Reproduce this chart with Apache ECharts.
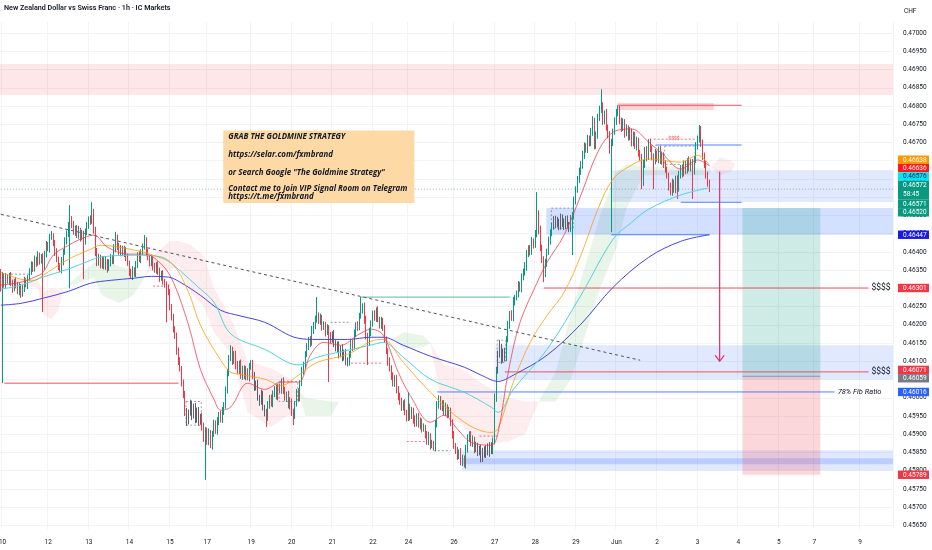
<!DOCTYPE html>
<html><head><meta charset="utf-8">
<script src="https://cdn.jsdelivr.net/npm/echarts@6/dist/echarts.min.js"></script>
<style>html,body{margin:0;padding:0;background:#fff;}#chart{width:932px;height:550px;}</style>
</head><body><div id="chart"></div>
<script>
// ---------- DATA (prices in 1e-5 CHF units) ----------
const titleText = 'New Zealand Dollar vs Swiss Franc · 1h · IC Markets';
const firstOpen = 46345;
const closes = [
46300,46335,46310,46330,46320,46335,46315,46300,46320,46310,
46290,46305,46285,46300,46320,46310,46330,46345,46365,46355,
46380,46370,46390,46375,46385,46360,46395,46420,46410,46440,
46445,46425,46400,46380,46360,46350,46375,46400,46430,46450,
46470,46490,46475,46455,46465,46445,46460,46440,46450,46430,
46455,46470,46490,46485,46510,46460,46400,46370,46385,46365,
46380,46360,46375,46355,46370,46385,46375,46410,46440,46415,
46400,46410,46395,46405,46385,46370,46345,46335,46350,46340,
46365,46390,46380,46400,46415,46430,46400,46385,46370,46380,
46360,46350,46365,46345,46330,46340,46320,46310,46300,46290,
46250,46220,46190,46170,46130,46100,46080,46040,46010,45960,
45935,45960,45985,45950,45975,45940,45965,45935,45950,45920,
45890,45910,45880,45905,45870,45900,45930,45910,45935,45955,
45940,45965,45980,46020,46070,46110,46130,46100,46120,46090,
46075,46095,46060,46080,46060,46075,46055,46085,46095,46060,
46030,46040,46000,45990,46010,45975,45960,45945,45980,46000,
45985,46010,46025,46005,46030,46020,46045,46020,46000,46010,
45980,45990,45960,45950,45985,46015,46000,46040,46075,46090,
46120,46140,46160,46150,46185,46200,46215,46225,46210,46220,
46195,46200,46180,46190,46170,46160,46175,46150,46135,46145,
46120,46135,46110,46125,46100,46095,46120,46150,46140,46175,
46200,46195,46225,46240,46250,46215,46170,46150,46180,46205,
46230,46220,46240,46215,46200,46210,46190,46160,46130,46100,
46080,46060,46040,46055,46020,46005,45990,45975,45985,45960,
45945,45975,45950,45965,45940,45930,45950,45925,45935,45915,
45920,45900,45880,45895,45870,45875,45862,45930,45980,45995,
45975,45985,45960,45975,45955,45965,45930,45900,45870,45855,
45840,45850,45825,45835,45815,45860,45890,45900,45875,45885,
45860,45870,45850,45860,45835,45855,45845,45865,45850,45870,
45855,45880,46000,46075,46120,46140,46105,46125,46110,46160,
46200,46230,46220,46265,46275,46285,46310,46300,46330,46345,
46360,46395,46410,46400,46430,46420,46450,46505,46460,46410,
46380,46340,46370,46400,46430,46455,46470,46490,46475,46485,
46470,46495,46480,46470,46490,46475,46465,46490,46500,46540,
46570,46600,46620,46640,46665,46690,46680,46710,46700,46730,
46760,46690,46720,46770,46790,46800,46760,46780,46740,46720,
46680,46700,46730,46760,46780,46790,46760,46740,46755,46725,
46740,46715,46730,46700,46720,46690,46705,46670,46660,46590,
46640,46680,46660,46700,46685,46660,46650,46670,46655,46680,
46650,46665,46640,46625,46610,46580,46565,46590,46570,46600,
46575,46610,46630,46615,46640,46625,46650,46630,46645,46620,
46655,46690,46710,46735,46700,46660,46640,46610,46590,46572];
const upWick = [
8,10,6,12,8,7,10,9,6,11,8,10,7,9,12,8,6,10,9,8,
10,7,12,8,9,11,8,10,7,9,12,6,8,10,7,9,11,8,10,9,
12,38,8,10,7,9,11,6,10,8,9,12,7,10,26,8,9,11,10,7,
9,8,12,6,10,9,7,11,15,8,10,9,7,12,8,10,6,9,11,8,
10,9,12,7,8,16,10,9,6,11,8,10,7,9,12,8,10,6,9,11,
8,7,10,6,9,8,11,7,10,9,12,8,10,7,9,11,8,10,6,9,
12,10,8,11,7,9,10,8,12,6,9,10,8,11,9,7,14,10,8,9,
11,7,10,8,9,12,6,10,8,9,11,7,10,8,12,9,6,10,11,8,
9,10,7,12,8,9,8,11,10,7,9,12,8,10,6,9,11,8,10,9,
8,10,7,9,12,8,10,51,9,11,7,10,8,12,9,10,7,11,8,9,
10,8,12,7,9,11,8,10,9,12,7,10,8,36,9,11,10,8,12,7,
9,10,8,11,7,12,9,10,8,6,11,9,10,7,8,12,9,10,8,11,
7,40,9,10,8,12,7,9,11,8,10,6,9,12,8,10,7,9,11,12,
10,8,9,12,7,10,8,11,9,6,10,8,12,9,7,11,10,8,9,12,
8,10,7,9,11,8,12,6,10,9,8,11,12,10,9,18,8,10,12,9,
11,8,10,12,7,9,10,8,11,9,12,10,8,9,11,7,10,59,9,12,
10,8,11,9,12,7,10,8,9,11,6,10,8,12,9,10,7,11,9,12,
10,8,11,9,12,10,8,11,9,10,12,8,10,9,11,46,10,8,12,9,
11,10,8,9,12,12,10,8,11,9,10,7,12,8,10,9,11,8,10,9,
12,8,10,9,11,7,10,12,8,9,11,10,8,12,9,7,10,11,8,9,
10,12,8,9,11,10,7,12,9,10,8,11,9,13,10,8,12,9,10,8];
const dnWick = [
9,260,8,10,7,11,9,12,8,10,6,9,11,8,10,7,12,9,8,10,
9,11,8,10,7,125,9,10,8,12,7,9,11,8,10,6,9,12,8,10,
9,170,10,8,11,7,9,12,8,105,10,9,7,11,8,10,12,9,8,10,
11,8,9,12,7,10,8,9,11,10,8,12,7,9,10,8,11,9,12,8,
9,10,8,11,7,9,12,8,10,9,11,7,10,8,12,9,10,8,93,9,
10,8,11,9,12,10,8,9,11,10,12,8,9,11,7,10,8,12,9,10,
11,115,9,10,8,12,7,9,11,10,8,9,12,10,8,11,9,10,7,12,
9,10,8,11,9,12,7,10,8,9,11,10,8,12,9,10,11,25,8,10,
9,11,8,10,12,7,9,10,8,11,9,12,10,25,8,9,11,10,8,12,
10,8,9,11,7,10,12,9,8,10,11,9,12,8,127,10,9,11,8,10,
12,9,10,8,11,9,7,10,12,8,9,11,10,8,9,12,10,60,8,11,
10,9,12,8,10,11,7,9,10,12,8,11,9,10,8,12,9,11,10,8,
10,9,12,8,11,10,9,7,12,10,8,11,9,10,12,8,6,9,11,10,
9,12,8,10,11,9,8,12,10,9,11,8,10,12,6,9,10,11,8,10,
12,9,10,8,12,11,9,10,8,12,9,10,8,11,9,10,12,8,10,9,
8,11,9,10,12,8,10,9,11,8,10,12,9,10,8,11,9,10,12,8,
10,23,9,11,8,10,12,9,10,8,11,9,12,10,8,9,11,10,99,9,
10,8,11,9,12,10,8,9,11,10,12,9,8,10,11,9,12,10,8,9,
11,226,10,9,12,8,10,11,9,12,8,10,9,11,10,8,12,9,10,18,
9,10,12,8,11,9,78,10,8,12,9,11,10,8,9,12,10,11,8,9,
30,10,9,11,8,12,10,9,10,75,8,11,9,10,12,8,10,9,11,8];
// candle index ranges shown as neutral (inside-range) bars
const grayRanges = [[110,118],[150,156],[196,205],[282,290],[294,298],[327,336]];

const dateIdx = [1,28,52,76,100,122,148,172,196,220,241,268,292,316,340,364,388,412,436,460,481,508];
const dateTxt = ['10','12','13','14','15','17','19','20','21','22','24','26','27','28','29','Jun','2','3','4','5','7','9'];
const yTicks = [45650,45700,45750,45800,45850,45900,45950,46000,46050,46100,46150,46200,46250,46300,46350,46400,46450,46500,46550,46600,46650,46700,46750,46800,46850,46900,46950,47000];

const emaFast = [[0,46309],[12,46317],[20,46331],[25,46344],[31,46391],[40,46418],[47,46435],[55,46446],[63,46413],[75,46394],[85,46394],[95,46366],[102,46317],[111,46199],[118,46078],[126,45996],[130,45966],[136,45975],[146,46040],[156,46023],[166,46043],[176,46043],[183,46117],[191,46152],[201,46144],[211,46172],[219,46188],[226,46172],[235,46070],[242,46007],[254,45933],[262,45952],[270,45914],[278,45878],[290,45870],[294,45905],[300,46070],[307,46207],[318,46325],[323,46372],[333,46446],[343,46556],[353,46674],[362,46728],[373,46737],[383,46701],[392,46665],[402,46627],[412,46652],[419,46636]];
const emaOrange = [[0,46344],[12,46325],[20,46322],[25,46336],[40,46380],[53,46407],[59,46418],[79,46405],[90,46391],[102,46364],[111,46289],[118,46199],[130,46103],[136,46070],[142,46064],[156,46051],[166,46034],[176,46062],[187,46097],[205,46119],[221,46158],[226,46160],[238,46097],[254,46015],[274,45933],[290,45905],[294,45915],[303,46043],[313,46152],[323,46226],[333,46289],[343,46391],[353,46517],[362,46600],[373,46638],[383,46655],[402,46646],[412,46665],[419,46638]];
const emaCyan = [[0,46298],[12,46309],[25,46331],[40,46353],[53,46377],[59,46386],[79,46391],[95,46386],[102,46364],[118,46298],[126,46262],[136,46175],[156,46133],[176,46090],[187,46111],[205,46130],[221,46147],[226,46152],[238,46111],[254,46051],[274,46015],[290,45974],[294,45960],[303,46023],[323,46133],[343,46281],[362,46435],[373,46481],[383,46517],[402,46556],[419,46576]];
const emaBlue = [[0,46254],[12,46259],[25,46273],[40,46292],[53,46314],[65,46322],[79,46328],[89,46333],[99,46331],[106,46317],[118,46281],[130,46240],[142,46224],[156,46207],[176,46163],[187,46160],[205,46160],[219,46166],[226,46166],[238,46144],[254,46114],[274,46084],[284,46062],[294,46045],[303,46062],[323,46117],[343,46202],[362,46303],[383,46385],[402,46429],[419,46447]];

// cloud samples: [index, upper, lower, segment colour flag: 1 bull, 0 bear, 2 none]
const cloud = [[0,46330,46330,0],[22,46320,46300,0],[25,46290,46230,0],[30,46300,46215,0],[34,46295,46240,0],[37,46300,46300,1],
[55,46370,46330,1],[60,46380,46280,1],[70,46360,46260,1],[78,46350,46280,1],[85,46330,46330,0],
[90,46390,46360,0],[100,46430,46350,0],[105,46430,46360,0],[112,46420,46290,0],[120,46390,46250,0],[126,46300,46180,0],[136,46220,46120,0],[146,46100,45960,0],[160,46080,45920,0],[172,46050,45960,0],[176,46020,46020,1],
[180,46000,45950,1],[195,45990,45950,1],[200,45990,45990,2],
[232,46160,46160,1],[238,46180,46133,1],[250,46170,46140,1],[254,46150,46150,0],[262,46090,45950,0],[272,46080,45930,0],[278,46060,45900,0],[284,46040,45870,0],[300,46000,45880,0],[310,45990,45900,0],[318,45990,45990,1],
[328,46070,45990,1],[337,46230,46050,1],[346,46370,46180,1],[355,46510,46310,1],[364,46620,46410,1],[370,46640,46520,1],[380,46635,46610,1],[419,46630,46610,1],[420,46630,46630,0],[425,46660,46610,0],[432,46650,46620,0],[434,46640,46640,2]];

// zones: [startIdx, endIdx, top, bottom]
const zones = [[0,527,46915,46830],[362,527,46624,46537],[323,527,46520,46447],[293,527,46144,46050],[273,527,45856,45801],[273,527,45834,45818],[365,421,46808,46789]];
const zoneKinds = ['red','blue','blue2','blue','blue','blue2','red2'];
const dashBoxes = [[110,118,45990,45925],[165,175,46045,45990],[294,298,46158,46097],[326,338,46520,46465],[393,410,46690,46640]];
// lines: [x0, p0, x1, p1]
const segs = [[0,46503,378,46103],[2,46040,105,46040],[213,46276,301,46276],[321,46301,513,46301],[298,46071,513,46071],[258,46016,493,46016],[365,46802,438,46802],[387,46693,438,46693],[402,46536,438,46536],[361,46447,419,46447],[0,46572,527,46572],[386,46709,395,46709],[402,46709,412,46709],[6,46339,18,46339],[90,46306,96,46306],[195,46207,207,46207],[207,46095,226,46095],[240,45880,252,45880],[256,45855,266,45855],[283,45895,294,45895]];
const segKinds = ['trend','red','green','red','red','blue','red','blue','blue','blue','price','reddash','reddash','graydash','reddash','graydash','reddash','reddash','graydash','graydash'];
const texts = [[513,46301,'$$$$'],[513,46071,'$$$$'],[493,46016,'78% Fib Ratio'],[398,46709,'$$$$']];
const textKinds = ['big','big','fib','small'];
const position = [439,484,46520,46059,45789]; // x0, x1, target, entry, stop
const arrow = [425,46620,46100];
const noteBox = [132,244,46733,46534];
const noteLines = ['GRAB THE GOLDMINE STRATEGY','https://selar.com/fxmbrand','or Search Google "The Goldmine Strategy"','Contact me to Join VIP Signal Room on Telegram','https://t.me/fxmbrand'];
const badges = [[46638,'orange'],[46636,'red1'],[46576,'cyan'],[46572,'teal','58:45'],[46571,'teal'],[46520,'teal'],[46447,'blue'],[46301,'red'],[46071,'red'],[46059,'gray'],[46016,'blue2'],[45789,'red']];

// ---------- BUILD ----------
const myChart = echarts.init(document.getElementById('chart'));
const P = v => v / 100000;
const N_SLOTS = 528;
const cats = Array.from({length:N_SLOTS}, (_, i) => String(i));
const labelMap = {};
dateIdx.forEach((d, k) => { labelMap[d] = dateTxt[k]; });
const isGray = i => grayRanges.some(r => i >= r[0] && i <= r[1]);
const GRAY = '#5d606b';

const candles = closes.map((c, i) => {
  const o = i === 0 ? firstOpen : closes[i-1];
  const hi = Math.max(o, c) + (upWick[i] || 0);
  const lo = Math.min(o, c) - (dnWick[i] || 0);
  const value = [P(o), P(c), P(lo), P(hi)];
  return isGray(i) ? {value, itemStyle:{color:GRAY, color0:GRAY, borderColor:GRAY, borderColor0:GRAY}} : value;
});

const xc = (api, i) => api.coord([i, P(46000)])[0];
const bw = api => xc(api, 1) - xc(api, 0);
const xl = (api, i) => xc(api, i) - bw(api) / 2;
const xr = (api, i) => xc(api, i) + bw(api) / 2;
const yv = (api, v) => api.coord([0, P(v)])[1];

function custom(z, fn) {
  return {type:'custom', z, silent:true, clip:false, data:[[0, P(46000)]], encode:{x:0, y:1},
    renderItem:(params, api) => ({type:'group', children: fn(params, api)})};
}

const zoneFill = {red:'rgba(242,54,69,0.12)', blue:'rgba(41,98,255,0.14)', blue2:'rgba(41,98,255,0.2)', red2:'rgba(242,54,69,0.22)'};
const segStyle = {
  trend:{stroke:'#50535e', lineWidth:1, lineDash:[3,3]},
  red:{stroke:'rgba(242,54,69,0.85)', lineWidth:1},
  green:{stroke:'rgba(8,153,129,0.55)', lineWidth:1.2},
  blue:{stroke:'rgba(41,98,255,0.8)', lineWidth:1},
  price:{stroke:'rgba(120,140,170,0.7)', lineWidth:1, lineDash:[1,2]},
  reddash:{stroke:'rgba(242,54,69,0.7)', lineWidth:1, lineDash:[2,2]},
  graydash:{stroke:'rgba(80,83,94,0.6)', lineWidth:1, lineDash:[2,2]}
};
const badgeBg = {orange:'#ff9800', red1:'#ff1a1a', red:'#f23645', cyan:'#00e5ff', teal:'#089981', blue:'#1a1ae6', blue2:'#2962ff', gray:'#787b86'};

const series = [
  custom(1, (params, api) => {
    const out = [];
    for (let k = 0; k < cloud.length - 1; k++) {
      const a = cloud[k], b = cloud[k+1];
      if (a[3] === 2) continue;
      out.push({type:'polygon', shape:{points:[[xc(api,a[0]), yv(api,a[1])],[xc(api,b[0]), yv(api,b[1])],[xc(api,b[0]), yv(api,b[2])],[xc(api,a[0]), yv(api,a[2])]]},
        style:{fill: a[3] === 1 ? 'rgba(76,175,80,0.13)' : 'rgba(242,54,69,0.09)'}});
    }
    return out;
  }),
  custom(1, (params, api) => zones.map((z, k) => ({type:'rect',
    shape:{x:xl(api,z[0]), y:yv(api,z[2]), width:xr(api,z[1]) - xl(api,z[0]), height:yv(api,z[3]) - yv(api,z[2])},
    style:{fill: zoneFill[zoneKinds[k]]}}))),
  custom(2, (params, api) => {
    const x0 = xl(api, position[0]), x1 = xr(api, position[1]);
    const yt = yv(api, position[2]), ye = yv(api, position[3]), ys = yv(api, position[4]);
    return [
      {type:'rect', shape:{x:x0, y:yt, width:x1-x0, height:ye-yt}, style:{fill:'rgba(8,153,129,0.2)'}},
      {type:'rect', shape:{x:x0, y:ye, width:x1-x0, height:ys-ye}, style:{fill:'rgba(242,54,69,0.2)'}},
      {type:'line', shape:{x1:x0, y1:ye, x2:x1, y2:ye}, style:{stroke:'rgba(120,123,134,0.7)', lineWidth:1}}
    ];
  }),
  custom(2, (params, api) => dashBoxes.map(b => ({type:'rect',
    shape:{x:xl(api,b[0]), y:yv(api,b[2]), width:xr(api,b[1]) - xl(api,b[0]), height:yv(api,b[3]) - yv(api,b[2])},
    style:{fill:'none', stroke:'rgba(80,83,94,0.55)', lineWidth:1, lineDash:[2,2]}}))),
  custom(2, (params, api) => segs.map((s, k) => ({type:'line',
    shape:{x1:xc(api,s[0]), y1:yv(api,s[1]), x2:(s[2] >= N_SLOTS-1 ? xr(api,s[2]) : xc(api,s[2])), y2:yv(api,s[3])},
    style: segStyle[segKinds[k]]}))),
  {type:'line', z:4, silent:true, data: emaBlue.map(p => [p[0], P(p[1])]), smooth:0.35, symbol:'none', lineStyle:{color:'#4646d8', width:1}},
  {type:'line', z:4, silent:true, data: emaCyan.map(p => [p[0], P(p[1])]), smooth:0.35, symbol:'none', lineStyle:{color:'#4fd3dc', width:1}},
  {type:'line', z:4, silent:true, data: emaOrange.map(p => [p[0], P(p[1])]), smooth:0.35, symbol:'none', lineStyle:{color:'rgba(255,152,0,0.75)', width:1}},
  {type:'line', z:4, silent:true, data: emaFast.map(p => [p[0], P(p[1])]), smooth:0.35, symbol:'none', lineStyle:{color:'rgba(242,54,69,0.75)', width:1}},
  {type:'candlestick', z:3, silent:true, data: candles, barWidth:1.2,
    itemStyle:{color:'#089981', color0:'#f23645', borderColor:'#089981', borderColor0:'#f23645', borderWidth:1}},
  custom(5, (params, api) => {
    const out = [];
    texts.forEach((t, k) => {
      const kind = textKinds[k];
      const st = kind === 'big' ? {fontSize:8.5, fontFamily:'Roboto', fill:'#131722', align:'left'}
        : kind === 'fib' ? {fontSize:7.5, fontFamily:'Roboto', fontStyle:'italic', fill:'#131722', align:'left'}
        : {fontSize:5, fontFamily:'Roboto', fill:'#f23645', align:'center'};
      const x = kind === 'small' ? xc(api, t[0]) : xc(api, t[0]) + 3;
      out.push({type:'text', style:Object.assign({text:t[2], x:x, y:yv(api,t[1]), verticalAlign:'middle'}, st)});
    });
    const x = xc(api, arrow[0]), y0 = yv(api, arrow[1]), y1 = yv(api, arrow[2]);
    out.push({type:'line', shape:{x1:x, y1:y0, x2:x, y2:y1}, style:{stroke:'#e0306a', lineWidth:1.2}});
    out.push({type:'polyline', shape:{points:[[x-4.5, y1-6],[x, y1],[x+4.5, y1-6]]}, style:{stroke:'#e0306a', lineWidth:1.2, fill:'none'}});
    const bx0 = xl(api, noteBox[0]), bx1 = xr(api, noteBox[1]), by0 = yv(api, noteBox[2]), by1 = yv(api, noteBox[3]);
    out.push({type:'rect', shape:{x:bx0, y:by0, width:bx1-bx0, height:by1-by0}, style:{fill:'#fdd9a6'}});
    const offs = [6, 24, 42, 58, 66];
    noteLines.forEach((s, k) => out.push({type:'text', style:{text:s, x:bx0+5, y:by0+offs[k], verticalAlign:'middle', align:'left',
      fontSize:7.9, fontFamily:'Open Sans', fontStyle:'italic', fontWeight:'bold', fill:'#131722'}}));
    return out;
  }),
  custom(10, (params, api) => {
    const right = params.coordSys.x + params.coordSys.width;
    const H1 = 8.4, H2 = 19;
    const items = badges.map(b => ({b, h: b[2] ? H2 : H1, dt: yv(api, b[0]) - H1/2}));
    items.sort((a, c) => a.dt - c.dt);
    let cl = items.map(it => ({its:[it], top:it.dt, h:it.h}));
    let merged = true;
    while (merged) {
      merged = false;
      for (let i = 0; i < cl.length - 1; i++) {
        const a = cl[i], c = cl[i+1];
        if (a.top + a.h > c.top) {
          const its = a.its.concat(c.its);
          let off = 0, sum = 0;
          its.forEach(it => { sum += it.dt - off; off += it.h; });
          cl.splice(i, 2, {its, top: sum / its.length, h: off});
          merged = true; break;
        }
      }
    }
    const out = [];
    cl.forEach(c => {
      let y = c.top;
      c.its.forEach(it => {
        const b = it.b;
        out.push({type:'rect', shape:{x:right+5, y:y, width:31, height:it.h}, style:{fill:badgeBg[b[1]]}});
        const fc = b[1] === 'cyan' ? '#131722' : '#ffffff';
        out.push({type:'text', style:{text:P(b[0]).toFixed(5), x:right+10, y:y+H1/2+0.3, verticalAlign:'middle', align:'left', fontSize:6.5, fontFamily:'Roboto', fill:fc}});
        if (b[2]) out.push({type:'text', style:{text:b[2], x:right+10, y:y+H1/2+9.5, verticalAlign:'middle', align:'left', fontSize:6.5, fontFamily:'Roboto', fill:fc}});
        y += it.h;
      });
    });
    return out;
  })
];

myChart.setOption({
  animation:false,
  backgroundColor:'#ffffff',
  title:{text:titleText, left:4, top:5, padding:0, textStyle:{fontSize:7.2, fontWeight:600, color:'#131722', fontFamily:'Roboto'}},
  graphic:[{type:'text', left:904, top:8, style:{text:'CHF', fontSize:6.5, fontFamily:'Roboto', fill:'#131722'}}],
  grid:{left:0, right:39, top:22.1, bottom:20.9, outerBoundsMode:'none', containLabel:false},
  xAxis:{type:'category', data:cats, boundaryGap:true,
    axisLine:{show:false}, axisTick:{show:false},
    axisLabel:{interval:(i) => labelMap[i] !== undefined, formatter:(v, i) => labelMap[i] || '', fontSize:6.5, fontFamily:'Roboto', color:'#131722', margin:10},
    splitLine:{show:true, interval:(i) => labelMap[i] !== undefined, lineStyle:{color:'#f1f3f6', width:1}}},
  yAxis:{type:'value', position:'right', min:P(45640), max:P(47030), scale:true,
    axisLine:{show:false}, axisTick:{show:false, customValues:yTicks.map(P)},
    axisLabel:{customValues:yTicks.map(P), formatter:v => v.toFixed(5), fontSize:6.5, fontFamily:'Roboto', color:'#131722', margin:10},
    splitLine:{show:true, lineStyle:{color:'#f1f3f6', width:1}}},
  series
});
</script></body></html>
